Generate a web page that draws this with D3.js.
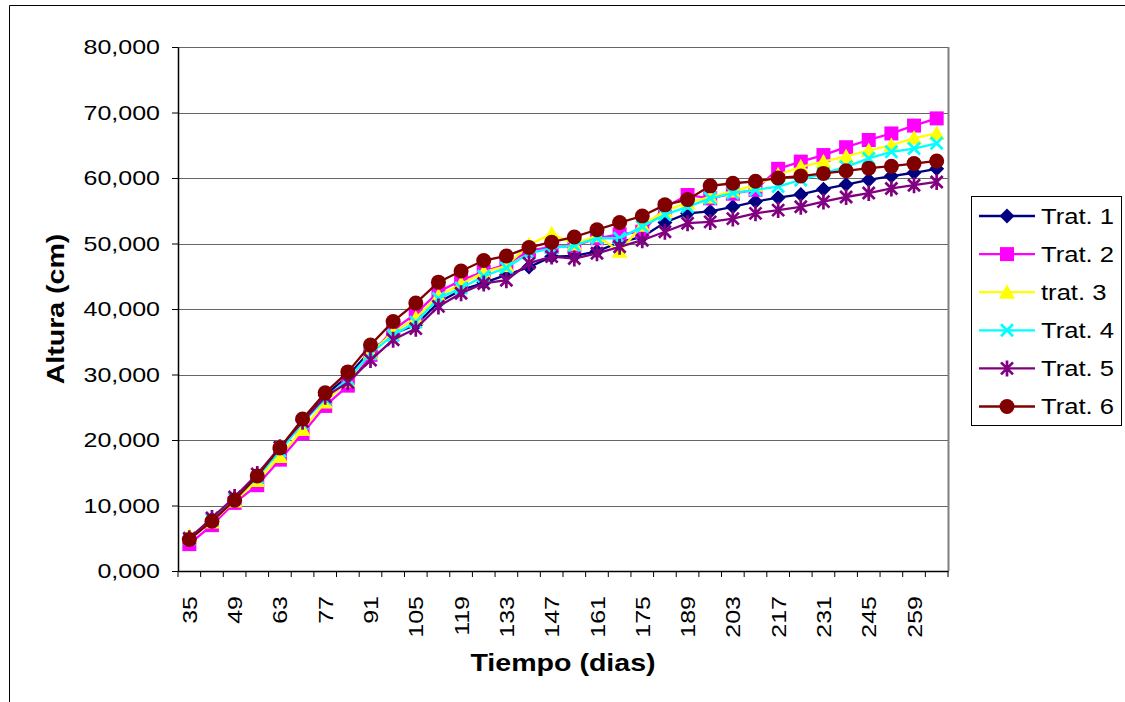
<!DOCTYPE html>
<html><head><meta charset="utf-8">
<script src="https://cdn.jsdelivr.net/npm/d3@7"></script>
<style>body{margin:0;background:#fff;}svg{display:block;font-family:Arial,"Liberation Sans",sans-serif;}</style>
</head><body>
<svg id="c" width="1125" height="702"></svg>
<script>
const days = [35,42,49,56,63,70,77,84,91,98,105,112,119,126,133,140,147,154,161,168,175,182,189,196,203,210,217,224,231,238,245,252,259,266];
const dayLabels = [35,49,63,77,91,105,119,133,147,161,175,189,203,217,231,245,259];
const yTicks = [0,10,20,30,40,50,60,70,80];
const seriesNames = ["Trat. 1","Trat. 2","trat. 3","Trat. 4","Trat. 5","Trat. 6"];
const trat1 = [4.9,7.9,11.1,14.6,18.6,23.0,26.8,29.8,33.6,36.2,37.6,41.0,42.9,44.0,45.2,46.4,48.0,48.1,48.8,50.2,51.0,53.2,54.6,54.9,55.6,56.4,57.0,57.5,58.3,59.0,59.7,60.3,60.8,61.4];
const trat2 = [4.1,7.0,10.4,13.1,17.0,21.0,25.2,28.3,33.0,36.8,39.3,42.6,44.4,45.7,46.8,48.9,49.5,49.6,50.8,51.4,51.8,55.5,57.4,56.9,57.6,58.2,61.4,62.5,63.5,64.7,65.8,66.8,68.0,69.1];
const trat3 = [5.4,7.5,10.7,13.8,17.5,21.6,25.8,29.0,33.3,36.4,38.6,42.0,43.8,45.6,46.6,49.8,51.5,49.9,51.2,48.8,52.8,55.0,56.2,57.1,58.0,58.9,60.5,61.7,62.5,63.3,64.2,65.0,66.1,66.8];
const trat4 = [4.9,7.8,11.0,14.3,18.3,22.6,26.3,29.3,33.2,36.0,38.0,41.6,43.2,45.0,46.3,48.5,49.3,49.7,50.8,50.8,52.6,54.4,55.6,56.9,57.7,58.2,58.7,59.7,60.7,61.7,63.0,64.0,64.5,65.3];
const trat5 = [5.0,8.1,11.3,14.8,18.9,22.8,26.6,28.8,32.2,35.3,37.0,40.4,42.4,43.9,44.4,47.0,48.0,47.7,48.5,49.5,50.5,51.8,53.1,53.3,53.8,54.6,55.1,55.6,56.4,57.1,57.7,58.4,58.9,59.4];
const trat6 = [4.8,7.6,10.8,14.5,18.8,23.2,27.2,30.4,34.5,38.1,40.9,44.1,45.8,47.4,48.1,49.4,50.2,51.0,52.1,53.2,54.2,55.9,56.7,58.8,59.2,59.5,60.0,60.3,60.7,61.1,61.5,61.8,62.2,62.6];
const seriesValues = [trat1,trat2,trat3,trat4,trat5,trat6];
const colors = ["#000080","#FF00FF","#FFFF00","#00FFFF","#800080","#800000"];
const shapes = ["diamond","square","triangle","x","star","circle"];

const svg = d3.select("#c");
const L=178,R=948,T=47,B=571;
const x = d3.scaleBand().domain(days).range([L,R]).padding(0);
const y = d3.scaleLinear().domain([0,80]).range([B,T]);
const cx = d => x(d)+x.bandwidth()/2;
const loc = d3.formatLocale({decimal:",",thousands:".",grouping:[3],currency:["",""]});
const fmt = loc.format(".3f");
const STRETCH = 1.19;
function stretch(sel){ sel.each(function(){ const w=this.getComputedTextLength(); d3.select(this).attr("textLength",w*STRETCH).attr("lengthAdjust","spacingAndGlyphs");}); }

// outer frame
svg.append("path").attr("d","M9.5,702 L9.5,5.5 L1125,5.5").attr("fill","none").attr("stroke","#000").attr("stroke-width",1);

// gridlines
svg.append("g").selectAll("line").data(yTicks.filter(v=>v>0)).join("line")
  .attr("x1",L).attr("x2",R).attr("y1",d=>Math.round(y(d))+0.5).attr("y2",d=>Math.round(y(d))+0.5)
  .attr("stroke","#666").attr("stroke-width",1.2);
// plot border right
svg.append("line").attr("x1",R+0.5).attr("x2",R+0.5).attr("y1",T).attr("y2",B).attr("stroke","#808080").attr("stroke-width",2);

// y axis
const ya = svg.append("g").attr("transform",`translate(${L},0)`)
  .call(d3.axisLeft(y).tickValues(yTicks).tickSize(6).tickSizeOuter(0).tickPadding(12).tickFormat(fmt));
ya.select(".domain").attr("stroke","#000").attr("stroke-width",1.5);
ya.selectAll(".tick line").attr("stroke","#000");
ya.selectAll(".tick text").attr("font-size",21).attr("font-family","Arial, 'Liberation Sans'").attr("fill","#000").call(stretch);

// x axis
const xa = svg.append("g").attr("transform",`translate(0,${B})`)
  .call(d3.axisBottom(x).tickValues(dayLabels).tickSize(0).tickSizeOuter(0).tickPadding(0));
xa.select(".domain").attr("stroke","#000").attr("stroke-width",1.5);
xa.selectAll(".tick text").attr("font-size",21).attr("font-family","Arial, 'Liberation Sans'").attr("fill","#000")
  .attr("text-anchor","end").attr("dy","0.36em").attr("transform","translate(0,25) rotate(-90)").attr("y",0).call(stretch);
// category boundary ticks
svg.append("g").selectAll("line").data(days.map(d=>x(d)).concat([x.range()[1]])).join("line")
  .attr("x1",d=>d).attr("x2",d=>d).attr("y1",B).attr("y2",B+6).attr("stroke","#000").attr("stroke-width",1);

// titles
svg.append("text").attr("x",(L+R)/2).attr("y",671).attr("text-anchor","middle").attr("font-size",24).attr("font-weight","bold").text("Tiempo (dias)").call(stretch);
svg.append("text").attr("transform",`translate(64,${(T+B)/2}) rotate(-90)`).attr("text-anchor","middle").attr("font-size",24).attr("font-weight","bold").text("Altura (cm)").call(stretch);

function markerPath(s){
  switch(s){
    case "diamond": return "M0,-7.5L7.5,0L0,7.5L-7.5,0Z";
    case "square": return "M-7,-7H7V7H-7Z";
    case "triangle": return "M0,-8L8,6.5L-8,6.5Z";
    case "x": return "M-6,-6L6,6M6,-6L-6,6";
    case "star": return "M-6,-6L6,6M6,-6L-6,6M0,-8L0,8";
    case "circle": return d3.symbol(d3.symbolCircle, Math.PI*7.5*7.5)();
  }
}
function drawMarker(g, s, col){
  const p = g.append("path").attr("d",markerPath(s));
  if(s==="x"||s==="star") p.attr("fill","none").attr("stroke",col).attr("stroke-width",2.7);
  else p.attr("fill",col).attr("stroke","none");
}

const line = d3.line().x((v,i)=>cx(days[i])).y(v=>y(v));
seriesValues.forEach((vals,k)=>{
  const g = svg.append("g");
  g.append("path").datum(vals).attr("d",line).attr("fill","none").attr("stroke",colors[k]).attr("stroke-width",2.3);
  vals.forEach((v,i)=>{
    const m = g.append("g").attr("transform",`translate(${cx(days[i])},${y(v)})`);
    drawMarker(m, shapes[k], colors[k]);
  });
});

// legend
const lg = svg.append("g");
lg.append("rect").attr("x",971.5).attr("y",196.5).attr("width",150).attr("height",229).attr("fill","#fff").attr("stroke","#000").attr("stroke-width",1);
seriesNames.forEach((n,k)=>{
  const yy = 216 + k*38.1;
  lg.append("line").attr("x1",979).attr("x2",1035).attr("y1",yy).attr("y2",yy).attr("stroke",colors[k]).attr("stroke-width",2.3);
  const m = lg.append("g").attr("transform",`translate(1007,${yy})`);
  drawMarker(m, shapes[k], colors[k]);
  lg.append("text").attr("x",1041).attr("y",yy).attr("dy","0.36em").attr("font-size",21.5).attr("fill","#000").text(n).call(stretch);
});
</script>
</body></html>
